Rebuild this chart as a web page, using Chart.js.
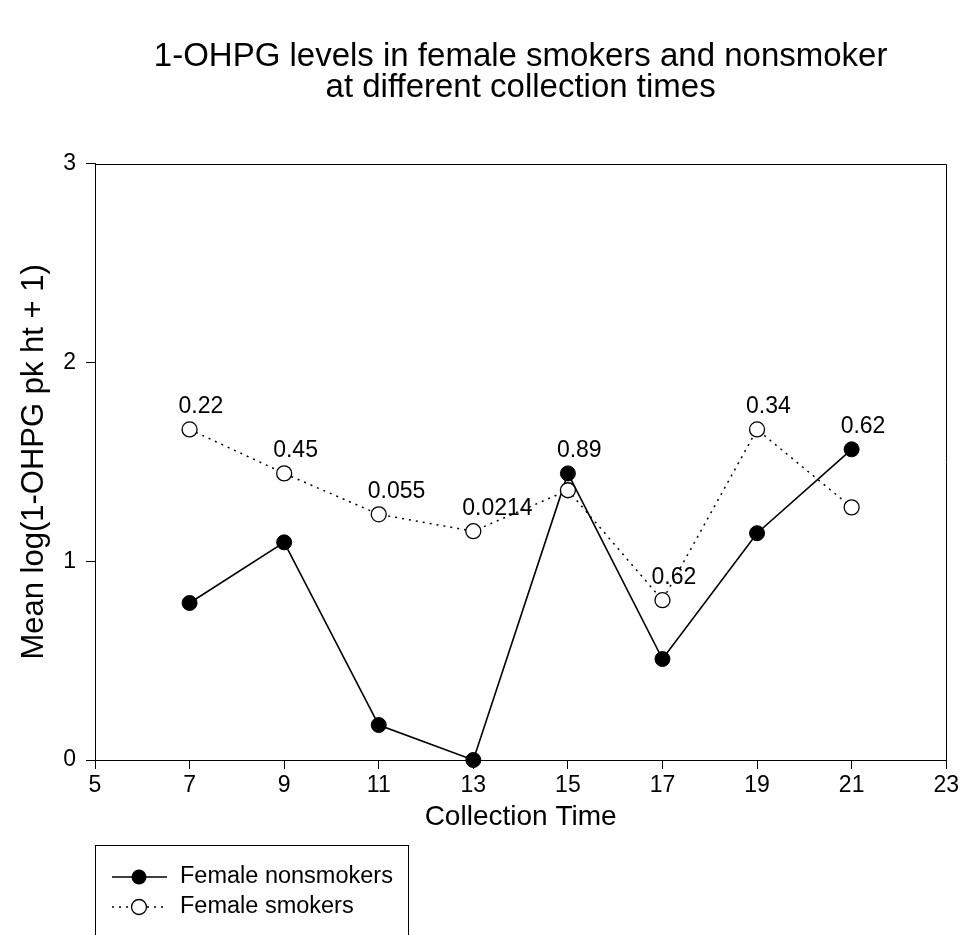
<!DOCTYPE html>
<html><head><meta charset="utf-8">
<script src="https://cdn.jsdelivr.net/npm/chart.js@4"></script>
<style>html,body{margin:0;padding:0;background:#fff}#wrap{width:962px;height:935px}</style>
</head><body><div id="wrap"><canvas id="c" width="962" height="935"></canvas></div>
<script>
const collectionTimes = [7, 9, 11, 13, 15, 17, 19, 21];
const femaleNonsmokers = [0.79, 1.095, 0.176, 0.0, 1.442, 0.508, 1.141, 1.563];
const femaleSmokers = [1.663, 1.442, 1.236, 1.151, 1.357, 0.804, 1.663, 1.271];
const pValueLabels = ['0.22', '0.45', '0.055', '0.0214', '0.89', '0.62', '0.34', '0.62'];
const xTickValues = [5, 7, 9, 11, 13, 15, 17, 19, 21, 23];
const yTickValues = [0, 1, 2, 3];
const titleLines = ['1-OHPG levels in female smokers and nonsmoker', 'at different collection times'];
const seriesNames = ['Female nonsmokers', 'Female smokers'];
const xTitle = 'Collection Time';
const yTitle = 'Mean log(1-OHPG pk ht + 1)';

const FONT = '"Liberation Sans", Arial, Helvetica, sans-serif';

const pts = (vals) => collectionTimes.map((t, i) => ({x: t, y: vals[i]}));

const boxPlugin = {
  id: 'box',
  beforeDatasetsDraw(chart) {
    const {ctx, chartArea: a} = chart;
    ctx.save();
    ctx.strokeStyle = '#000';
    ctx.lineWidth = 1;
    ctx.beginPath();
    ctx.moveTo(Math.round(a.left) + 0.5, Math.round(a.top) + 0.5);
    ctx.lineTo(Math.round(a.right) + 0.5, Math.round(a.top) + 0.5);
    ctx.lineTo(Math.round(a.right) + 0.5, Math.round(a.bottom) + 0.5);
    ctx.stroke();
    ctx.restore();
  }
};

const labelPlugin = {
  id: 'plabels',
  afterDatasetsDraw(chart) {
    const {ctx, scales: {x, y}} = chart;
    ctx.save();
    ctx.fillStyle = '#000';
    ctx.font = '23px ' + FONT;
    ctx.textAlign = 'left';
    ctx.textBaseline = 'middle';
    collectionTimes.forEach((t, i) => {
      const top = Math.max(femaleNonsmokers[i], femaleSmokers[i]);
      ctx.fillText(pValueLabels[i], x.getPixelForValue(t) - 11, y.getPixelForValue(top) - 23);
    });
    ctx.restore();
  }
};

const legendPlugin = {
  id: 'customLegend',
  afterDraw(chart) {
    const {ctx} = chart;
    ctx.save();
    ctx.strokeStyle = '#000';
    ctx.lineWidth = 1;
    ctx.strokeRect(95.5, 845.5, 313, 120);
    ctx.font = '23.5px ' + FONT;
    ctx.fillStyle = '#000';
    ctx.textBaseline = 'middle';
    ctx.textAlign = 'left';
    const rows = [877, 907];
    ctx.lineWidth = 1.5;
    ctx.setLineDash([]);
    ctx.beginPath(); ctx.moveTo(112, rows[0]); ctx.lineTo(167, rows[0]); ctx.stroke();
    ctx.beginPath(); ctx.arc(139, rows[0], 7.5, 0, Math.PI * 2); ctx.fillStyle = '#000'; ctx.fill();
    ctx.fillText(seriesNames[0], 180, rows[0]);
    ctx.setLineDash([2, 5]);
    ctx.beginPath(); ctx.moveTo(112, rows[1]); ctx.lineTo(167, rows[1]); ctx.stroke();
    ctx.setLineDash([]);
    ctx.beginPath(); ctx.arc(139, rows[1], 7.5, 0, Math.PI * 2);
    ctx.fillStyle = '#fff'; ctx.fill(); ctx.lineWidth = 1.3; ctx.stroke();
    ctx.fillStyle = '#000';
    ctx.fillText(seriesNames[1], 180, rows[1]);
    ctx.restore();
  }
};

new Chart(document.getElementById('c'), {
  type: 'line',
  data: {
    datasets: [
      {
        label: seriesNames[0],
        data: pts(femaleNonsmokers),
        borderColor: '#000',
        borderWidth: 1.6,
        pointRadius: 7.5,
        pointBackgroundColor: '#000',
        pointBorderColor: '#000',
        pointBorderWidth: 1,
        order: 1,
        clip: false,
        tension: 0
      },
      {
        label: seriesNames[1],
        data: pts(femaleSmokers),
        borderColor: '#000',
        borderWidth: 1.5,
        borderDash: [2, 5],
        pointRadius: 7.5,
        pointBackgroundColor: '#fff',
        pointBorderColor: '#000',
        pointBorderWidth: 1.3,
        order: 0,
        clip: false,
        tension: 0
      }
    ]
  },
  options: {
    responsive: false,
    animation: false,
    devicePixelRatio: 1,
    layout: {padding: {left: 0, right: 15, top: 0, bottom: 90}},
    plugins: {
      legend: {display: false},
      tooltip: {enabled: false},
      title: {
        display: true,
        fullSize: false,
        text: titleLines,
        color: '#000',
        font: {family: FONT, size: 33, weight: 'normal', lineHeight: 0.95},
        padding: {top: 41, bottom: 60}
      }
    },
    scales: {
      x: {
        type: 'linear',
        min: 5, max: 23,
        afterBuildTicks: (s) => { s.ticks = xTickValues.map(v => ({value: v})); },
        afterFit: (s) => { s.height = 85; },
        grid: {drawOnChartArea: false, drawTicks: true, tickLength: 9, color: '#000', lineWidth: 1},
        border: {display: true, color: '#000', width: 1},
        ticks: {color: '#000', font: {family: FONT, size: 23}, padding: 3, maxRotation: 0, autoSkip: false},
        title: {display: true, text: xTitle, color: '#000', font: {family: FONT, size: 28}, padding: {top: 4, bottom: 11}}
      },
      y: {
        type: 'linear',
        min: 0, max: 3,
        afterBuildTicks: (s) => { s.ticks = yTickValues.map(v => ({value: v})); },
        afterFit: (s) => { s.width = 95; },
        grid: {drawOnChartArea: false, drawTicks: true, tickLength: 9, color: '#000', lineWidth: 1},
        border: {display: true, color: '#000', width: 1},
        ticks: {color: '#000', font: {family: FONT, size: 23}, padding: 10, autoSkip: false},
        title: {display: true, text: yTitle, color: '#000', font: {family: FONT, size: 31}, padding: {top: 16, bottom: 4}}
      }
    }
  },
  plugins: [boxPlugin, labelPlugin, legendPlugin]
});
</script>
</body></html>
